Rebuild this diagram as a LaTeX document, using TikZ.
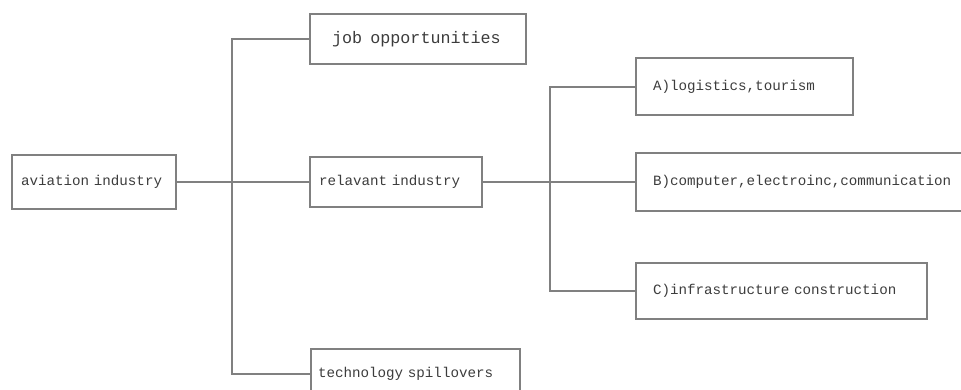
\documentclass[tikz,border=0pt]{standalone}
\usepackage{fontspec}
\setmonofont{Liberation Mono}
\usetikzlibrary{positioning}

\definecolor{linegray}{HTML}{808080}
\definecolor{textgray}{HTML}{3C3C3C}

\tikzset{
	box/.style={draw=linegray, line width=1.5pt, align=left, text=textgray,
		font=\ttfamily\fontsize{14.2}{16}\selectfont, inner ysep=0pt},
	link/.style={draw=linegray, line width=2pt},
}

\begin{document}
\begin{tikzpicture}[x=1pt, y=-1pt]
		\useasboundingbox (0,0) rectangle (961,389);
		\clip (0,0) rectangle (961,389);
		
		% main chain
		\node [box, inner xsep=9pt, text width=146pt, minimum height=54pt] (avia) at (94,182) {aviation industry};
		\node [box, inner xsep=9pt, text width=154pt, minimum height=50pt] (relev) at (396,182) {relavant industry};
		\node [box, inner xsep=22pt, text width=172pt, minimum height=50pt,
			font=\ttfamily\fontsize{16.7}{19}\selectfont] (job) at (418,39) {job\enspace opportunities};
		\node [box, inner xsep=7pt, text width=195pt, minimum height=50pt] (tech) at (415.5,374) {technology spillovers};
		
		% sub-branches of the relevant industry
		\node [box, inner xsep=17pt, text width=183pt, minimum height=57pt] (indA) at (744.5,86.5) {A)logistics,tourism};
		\node [box, inner xsep=17pt, text width=306pt, minimum height=58pt] (indB) at (806,182) {B)computer,electroinc,communication};
		\node [box, inner xsep=17pt, text width=257pt, minimum height=56pt] (indC) at (781.5,291) {C)infrastructure construction};
		
		\coordinate (trunk) at (232,182);
		\coordinate (branch) at (550,182);
		
		\draw [link] (avia.east) -- (relev.west);
		\draw [link] (job.west) -| (trunk) |- (tech.west);
		
		\draw [link] (relev.east) -- (indB.west);
		\draw [link] (indA.west) -| (branch) |- (indC.west);
	\end{tikzpicture}
\end{document}
